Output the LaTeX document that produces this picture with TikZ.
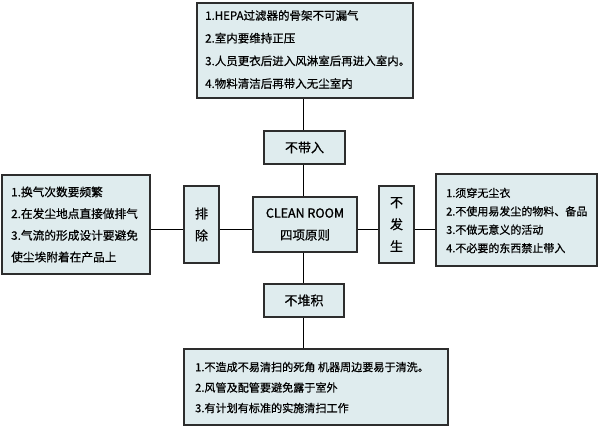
\documentclass[tikz,border=0pt]{standalone}
\usepackage{fontspec}
\setmainfont{Noto Sans CJK SC}[FakeBold=0.6]
\newfontfamily\cleanfont{Noto Sans CJK SC}[FakeBold=1.2]
\definecolor{boxfill}{RGB}{223,236,238}
\definecolor{boxline}{RGB}{45,45,45}
\begin{document}
\begin{tikzpicture}[x=1pt,y=-1pt,
  box/.style={draw=boxline,line width=1.4pt,fill=boxfill,rectangle,inner sep=0pt},
  tag/.style={box,align=center,font=\fontsize{13}{22}\selectfont},
  conn/.style={draw=black,line width=1.1pt}]
\useasboundingbox (0,0) rectangle (599,428);
\coordinate (hl) at (0,229.5);
\coordinate (vl) at (303.5,0);
% list boxes
\node[box,minimum width=216pt,minimum height=95pt] (topbox) at (305,50.5) {};
\node[anchor=west,align=left,inner sep=0pt,font=\fontsize{11.5}{22.7}\selectfont] (toptext) at (205,49.5)
 {1.HEPA过滤器的骨架不可漏气\\2.室内要维持正压\\3.人员更衣后进入风淋室后再进入室内。\\4.物料清洁后再带入无尘室内};
\node[box,minimum width=148pt,minimum height=99pt] (leftbox) at (76,224.5) {};
\node[anchor=west,align=left,inner sep=0pt,font=\fontsize{11.7}{21.7}\selectfont] (lefttext) at (11,224.5)
 {1.换气次数要频繁\\2.在发尘地点直接做排气\\3.气流的形成设计要避免\\使尘埃附着在产品上};
\node[box,minimum width=161pt,minimum height=92pt] (rightbox) at (516.5,220) {};
\node[anchor=west,align=left,inner sep=0pt,font=\fontsize{11}{18.4}\selectfont] (righttext) at (446,220.5)
 {1.须穿无尘衣\\2.不使用易发尘的物料、备品\\3.不做无意义的活动\\4.不必要的东西禁止带入};
\node[box,minimum width=264pt,minimum height=76pt] (botbox) at (316,387) {};
\node[anchor=west,align=left,inner sep=0pt,font=\fontsize{11.1}{20.5}\selectfont] (bottext) at (195,387.5)
 {1.不造成不易清扫的死角 机器周边要易于清洗。\\2.风管及配管要避免露于室外\\3.有计划有标准的实施清扫工作};
% tag boxes
\node[tag,minimum width=81pt,minimum height=33pt] (buru) at (304.5,147.5) {不带入};
\node[tag,minimum width=104pt,minimum height=55pt,font=\fontsize{12.5}{22}\selectfont] (clean) at (305,224.5) {{\cleanfont CLEAN ROOM}\\四项原则};
\node[tag,minimum width=35pt,minimum height=77pt] (bufa) at (396.5,224.5) {不\\发\\生};
\node[tag,minimum width=35pt,minimum height=77pt] (paichu) at (201.5,224.5) {排\\除};
\node[tag,minimum width=80pt,minimum height=33pt] (buduiji) at (304,300.5) {不堆积};
% connectors
\draw[conn] (topbox.south -| vl) -- (buru.north -| vl);
\draw[conn] (buru.south -| vl) -- (clean.north -| vl);
\draw[conn] (clean.south -| vl) -- (buduiji.north -| vl);
\draw[conn] (buduiji.south -| vl) -- (botbox.north -| vl);
\draw[conn] (leftbox.east |- hl) -- (paichu.west |- hl);
\draw[conn] (paichu.east |- hl) -- (clean.west |- hl);
\draw[conn] (clean.east |- hl) -- (bufa.west |- hl);
\draw[conn] (bufa.east |- hl) -- (rightbox.west |- hl);
\end{tikzpicture}
\end{document}
